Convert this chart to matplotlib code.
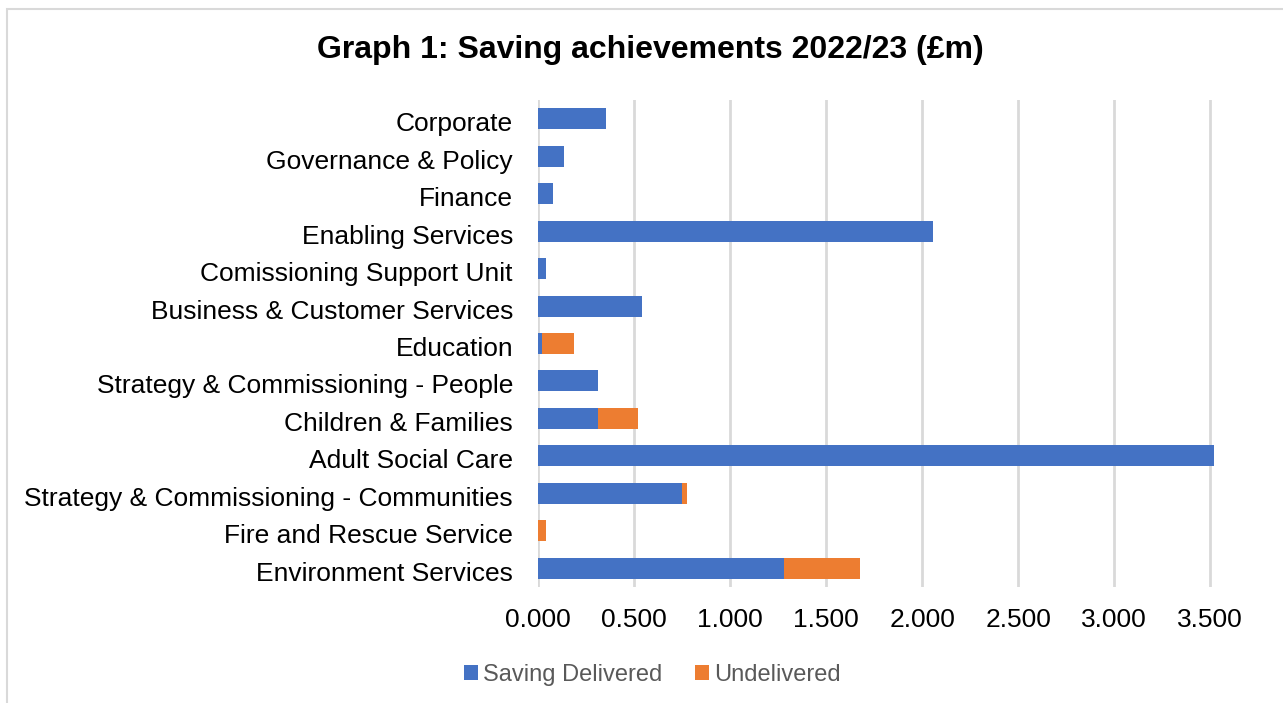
import matplotlib.pyplot as plt
import matplotlib.patches as mpatches
import matplotlib.transforms as mtransforms
import numpy as np

plt.rcParams['font.family'] = ['Liberation Sans', 'DejaVu Sans']

categories = ['Corporate', 'Governance & Policy', 'Finance', 'Enabling Services',
              'Comissioning Support Unit', 'Business & Customer Services', 'Education',
              'Strategy & Commissioning - People', 'Children & Families', 'Adult Social Care',
              'Strategy & Commissioning - Communities', 'Fire and Rescue Service',
              'Environment Services']
delivered = [0.356, 0.133, 0.080, 2.059, 0.043, 0.543, 0.022, 0.314, 0.314, 3.521,
             0.752, 0.000, 1.283]
undelivered = [0.000, 0.004, 0.000, 0.000, 0.000, 0.000, 0.167, 0.000, 0.208, 0.000,
               0.026, 0.043, 0.391]
xticks = [0, 0.5, 1.0, 1.5, 2.0, 2.5, 3.0, 3.5]

blue = '#4472C4'
orange = '#ED7D31'

fig = plt.figure(figsize=(12.83, 7.03), dpi=100)
ax = fig.add_axes([538 / 1283, 1 - 587 / 703, (1216 - 538) / 1283, (587 - 100) / 703])

y = np.arange(len(categories))
ax.barh(y, delivered, height=0.56, color=blue, label='Saving Delivered', zorder=3)
ax.barh(y, undelivered, left=delivered, height=0.56, color=orange, label='Undelivered', zorder=3)

ax.set_ylim(len(categories) - 0.5, -0.5)
ax.set_xlim(0, 3.53)
ax.set_yticks(y)
ax.set_yticklabels(categories, fontsize=19)
ax.set_xticks(xticks)
ax.set_xticklabels([f"{v:.3f}" for v in xticks], fontsize=19)
ax.tick_params(axis='both', length=0)
ax.tick_params(axis='y', pad=18)
ax.tick_params(axis='x', pad=15)
ax.xaxis.grid(True, color='#D9D9D9', linewidth=2, zorder=0)
for s in ax.spines.values():
    s.set_visible(False)

# nudge category labels a little lower, like the original
shift = mtransforms.ScaledTranslation(0, -3 / 100, fig.dpi_scale_trans)
for lbl in ax.get_yticklabels():
    lbl.set_transform(lbl.get_transform() + shift)

fig.text(650 / 1283, 1 - 50 / 703, 'Graph 1: Saving achievements 2022/23 (£m)',
         ha='center', va='center', fontsize=23, fontweight='bold')

leg = fig.legend(loc='center', bbox_to_anchor=(652 / 1283, 1 - 675 / 703), ncol=2,
                 frameon=False, fontsize=17, handlelength=0.6, handleheight=0.6,
                 handletextpad=0.2, columnspacing=1.4)
for t in leg.get_texts():
    t.set_color('#595959')

fig.patches.append(mpatches.Rectangle((7 / 1283, -0.1), 1.2, 1 - 9 / 703 + 0.1,
                                      transform=fig.transFigure, fill=False,
                                      edgecolor='#D9D9D9', linewidth=1.5))

fig.savefig('out.png', dpi=100)
